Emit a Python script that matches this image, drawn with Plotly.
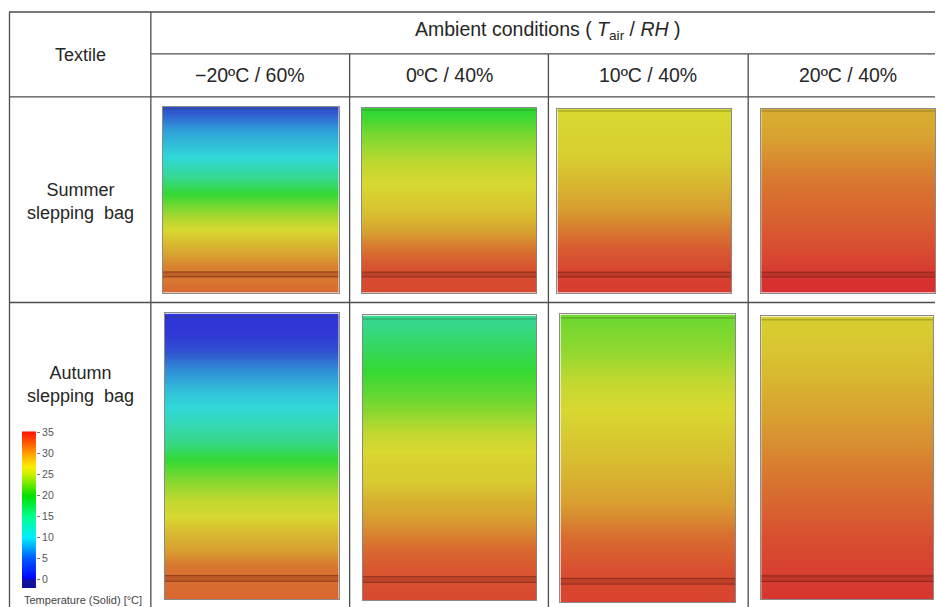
import plotly.graph_objects as go

# ---------------- data ----------------
conditions = ["\u221220\u00baC / 60%", "0\u00baC / 40%", "10\u00baC / 40%", "20\u00baC / 40%"]
textiles = ["Summer<br>slepping\u00a0 bag", "Autumn<br>slepping\u00a0 bag"]
header_text = "Ambient conditions ( <i>T</i><sub>air</sub> / <i>RH</i> )"
first_col_text = "Textile"
cbar_title = "Temperature (Solid) [\u00b0C]"
cbar_ticks = [0, 5, 10, 15, 20, 25, 30, 35]

# relative depth through the textile (0 = outer surface / top, 1 = inner / bottom)
summer_depth = [0.0, 0.03, 0.13, 0.27, 0.36, 0.47, 0.56, 0.66, 0.77, 0.86, 0.95, 1.0]
summer_m20 = [3, 3.5, 7, 10, 14, 20, 23, 26.5, 28.5, 30, 30.5, 31]
summer_0 = [20, 20, 22, 24.5, 25.8, 26.9, 27.5, 28.8, 30.5, 32.2, 33, 33]
summer_10 = [26.5, 26.5, 26.7, 27, 27.7, 28.5, 29.2, 30.2, 31.8, 33, 34, 34]
summer_20 = [28.5, 28.5, 28.8, 29.6, 30.1, 30.7, 31.1, 31.8, 32.8, 34, 35, 35]

autumn_depth = [0.0, 0.02, 0.07, 0.13, 0.20, 0.28, 0.33, 0.40, 0.46, 0.51, 0.58, 0.65, 0.71, 0.77, 0.83, 0.89, 0.98, 1.0]
autumn_m20 = [0.5, 0.5, 0.8, 3, 6, 9, 10, 13, 16, 20, 22.5, 25, 26.5, 28, 29, 30.5, 31, 31]
autumn_0 = [15, 15, 16.5, 18.2, 20.2, 21.6, 22.7, 24.7, 26.3, 26.8, 27.1, 28.3, 29, 29.9, 31.1, 32, 33, 33]
autumn_10 = [22, 22, 22.5, 23.2, 24.6, 25.9, 26.5, 27, 27.4, 27.8, 28.4, 29, 29.7, 30.7, 31.6, 32.6, 33.5, 33.5]
autumn_20 = [27, 27, 27.2, 27.5, 27.9, 28.5, 28.8, 29.3, 29.6, 30, 30.5, 31, 31.7, 32.5, 33.2, 33.7, 34.5, 34.5]

# layer boundary (shell fabric) depth ranges
summer_layer = [0.889, 0.916]
autumn_layer = [0.918, 0.938]

# colour bar sample levels
cbar_levels = [-2.14, -0.05, 0, 5, 10, 15, 20, 25, 27, 30, 35, 35.24]

rows = [
    (summer_depth, [summer_m20, summer_0, summer_10, summer_20], summer_layer),
    (autumn_depth, [autumn_m20, autumn_0, autumn_10, autumn_20], autumn_layer),
]

# ---------------- styling ----------------
W, H = 936, 607
FONT = "Liberation Sans, Arial, sans-serif"
TXT = "#262626"
LINE = "#4d4d4d"


def px(x):
    return min(max(x / W, 0), 1)


def py(y):
    yc = (y - 4) * H / (H - 4)
    return min(max(1 - yc / H, 0), 1)


zmax = 35.0
panel_scale = [
    [0 / zmax, "#3030d8"], [3 / zmax, "#3050d0"], [6 / zmax, "#3090d8"],
    [10 / zmax, "#30d8d8"], [15 / zmax, "#36d890"], [20 / zmax, "#34d834"],
    [22.5 / zmax, "#80d830"], [25 / zmax, "#c0d830"], [26.5 / zmax, "#d8d830"],
    [28 / zmax, "#d8b830"], [29 / zmax, "#d8a030"], [30 / zmax, "#d88030"],
    [31 / zmax, "#d86830"], [32.5 / zmax, "#d85030"], [34 / zmax, "#d83e30"],
    [35 / zmax, "#d83030"],
]

cmin, cmax = -2.14, 35.24
def cnorm(v):
    return (v - cmin) / (cmax - cmin)

cbar_scale = [
    [cnorm(-2.14), "#10109a"], [cnorm(-0.05), "#10109a"], [cnorm(0), "#0000ff"],
    [cnorm(5), "#0058ff"], [cnorm(10), "#00eeff"], [cnorm(15), "#00ff90"],
    [cnorm(20), "#00e000"], [cnorm(25), "#c8f000"], [cnorm(27), "#ffee00"],
    [cnorm(30), "#ffa000"], [cnorm(35), "#ff1800"], [cnorm(35.24), "#ff1800"],
]

panel_boxes = [
    [(163, 339, 106, 292), (362, 537, 107, 292), (558, 732, 108, 292), (762, 940, 108, 292)],
    [(165, 339, 313, 599), (363, 537, 315, 600), (561, 736, 314, 602), (762, 934, 316, 599)],
]

fig = go.Figure()
layout = dict(
    width=W, height=H, margin=dict(l=0, r=0, t=0, b=0),
    paper_bgcolor="white", plot_bgcolor="white", showlegend=False,
    font=dict(family=FONT, color=TXT),
)
shapes = []
annotations = []

for r, (depth, temps_list, layer) in enumerate(rows):
    for c, temps in enumerate(temps_list):
        idx = r * 4 + c + 1
        sfx = "" if idx == 1 else str(idx)
        fig.add_trace(go.Heatmap(
            x=[0, 1], y=depth, z=[[t, t] for t in temps],
            colorscale=panel_scale, zmin=0, zmax=zmax, zsmooth="best",
            showscale=False, hoverinfo="skip",
            xaxis="x" + sfx, yaxis="y" + sfx,
        ))
        x0, x1, y0, y1 = panel_boxes[r][c]
        layout["xaxis" + sfx] = dict(
            domain=[px(x0), px(x1)], range=[0, 1], anchor="y" + sfx,
            showgrid=False, zeroline=False, showticklabels=False, ticks="",
            showline=True, mirror=True, linecolor="rgba(100,100,100,0.75)", linewidth=1,
            fixedrange=True,
        )
        layout["yaxis" + sfx] = dict(
            domain=[py(y1), py(y0)], range=[1, 0], anchor="x" + sfx,
            showgrid=False, zeroline=False, showticklabels=False, ticks="",
            showline=True, mirror=True, linecolor="rgba(100,100,100,0.75)", linewidth=1,
            fixedrange=True,
        )
        xr, yr = "x" + sfx, "y" + sfx
        shapes.append(dict(type="rect", xref=xr, yref=yr, x0=0, x1=1,
                           y0=layer[0], y1=layer[1],
                           fillcolor="rgba(120,35,20,0.28)", line=dict(width=0), layer="above"))
        for b in layer:
            shapes.append(dict(type="line", xref=xr, yref=yr, x0=0, x1=1, y0=b, y1=b,
                               line=dict(color="rgba(95,25,15,0.55)", width=1)))
        shapes.append(dict(type="line", xref=xr, yref=yr, x0=0, x1=1, y0=0.012, y1=0.012,
                           line=dict(color="rgba(40,60,20,0.25)", width=1.5)))

# colour bar drawn as its own little axis
fig.add_trace(go.Heatmap(
    x=[0, 1], y=cbar_levels, z=[[v, v] for v in cbar_levels],
    colorscale=cbar_scale, zmin=cmin, zmax=cmax, zsmooth="best",
    showscale=False, hoverinfo="skip", xaxis="x9", yaxis="y9",
))
layout["xaxis9"] = dict(domain=[px(22), px(36)], range=[0, 1], anchor="y9",
                        visible=False, fixedrange=True)
layout["yaxis9"] = dict(domain=[py(588), py(431)], range=[cmin, cmax], anchor="x9",
                        side="right", tickvals=cbar_ticks, ticks="outside", ticklen=3,
                        tickcolor="#777", tickwidth=1,
                        tickfont=dict(size=10.5, color="#555", family=FONT),
                        showgrid=False, zeroline=False, showline=False, fixedrange=True)

# table grid lines
def hline(y, xa, xb):
    shapes.append(dict(type="line", xref="paper", yref="paper",
                       x0=px(xa), x1=px(xb), y0=py(y), y1=py(y),
                       line=dict(color=LINE, width=1.3)))

def vline(x, ya, yb):
    shapes.append(dict(type="line", xref="paper", yref="paper",
                       x0=px(x), x1=px(x), y0=py(ya), y1=py(yb),
                       line=dict(color=LINE, width=1.3)))

hline(11, 9, 936)
hline(53, 151, 936)
hline(96, 9, 936)
hline(302, 9, 936)
vline(9.5, 11, 607)
vline(151, 11, 607)
for xv in (350, 549, 749):
    vline(xv, 53, 607)

# texts
def text(t, x, y, size=18, anchor="center", color=TXT):
    annotations.append(dict(text=t, x=px(x), y=py(y), xref="paper", yref="paper",
                            xanchor=anchor, yanchor="middle", showarrow=False,
                            font=dict(size=size, color=color, family=FONT)))

text(first_col_text, 81, 54)
text(header_text, 549, 30, size=19.5)
for c, lab in enumerate(conditions):
    text(lab, 250 + c * 199.5, 74, size=19.5)
text(textiles[0], 81, 201)
text(textiles[1], 81, 384)
text(cbar_title, 22, 600, size=11, anchor="left", color="#444")

layout["shapes"] = shapes
layout["annotations"] = annotations
fig.update_layout(**layout)

pin_script = (
    "document.documentElement.style.margin='0';"
    "document.body.style.margin='0';"
    "document.body.style.overflow='hidden';"
    "var d=document.getElementById('{plot_id}');"
    "d.style.position='fixed';d.style.top='0px';d.style.left='0px';"
)
fig.write_html("out.html", config={"displayModeBar": False}, post_script=pin_script)
